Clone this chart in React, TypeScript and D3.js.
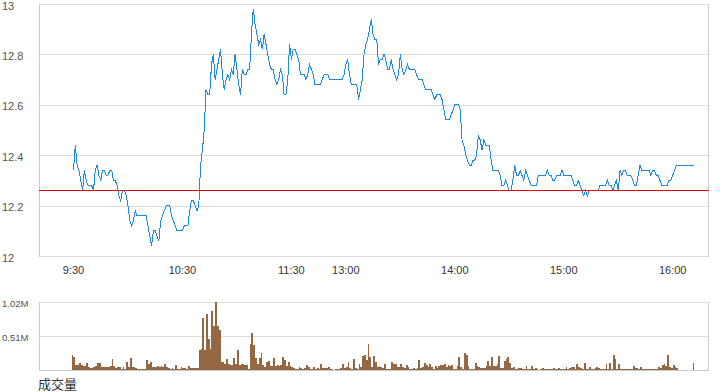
import React from 'react';
import * as d3 from 'd3';

// minute index 0 = 9:30, lunch break removed (HK session), last point = closing auction
const prices = [
  12.34, 12.44, 12.36, 12.34, 12.30, 12.26, 12.34, 12.30, 12.28, 12.28,
  12.28, 12.26, 12.34, 12.36, 12.32, 12.30, 12.34, 12.34, 12.32, 12.32,
  12.34, 12.34, 12.30, 12.30, 12.28, 12.24, 12.22, 12.26, 12.26, 12.24,
  12.20, 12.14, 12.12, 12.14, 12.18, 12.16, 12.16, 12.16, 12.16, 12.16,
  12.16, 12.12, 12.08, 12.04, 12.10, 12.10, 12.08, 12.06, 12.14, 12.16,
  12.18, 12.20, 12.20, 12.20, 12.16, 12.14, 12.12, 12.10, 12.10, 12.10,
  12.10, 12.12, 12.12, 12.12, 12.18, 12.22, 12.22, 12.20, 12.18, 12.20,
  12.36, 12.42, 12.50, 12.66, 12.64, 12.64, 12.76, 12.80, 12.70, 12.74,
  12.78, 12.82, 12.72, 12.66, 12.70, 12.72, 12.70, 12.74, 12.72, 12.80,
  12.74, 12.68, 12.64, 12.74, 12.72, 12.72, 12.74, 12.74, 12.88, 12.98,
  12.92, 12.88, 12.84, 12.86, 12.82, 12.88, 12.84, 12.80, 12.76, 12.74,
  12.74, 12.70, 12.68, 12.70, 12.74, 12.72, 12.64, 12.64, 12.70, 12.84,
  12.78, 12.82, 12.82, 12.80, 12.78, 12.72, 12.72, 12.72, 12.70, 12.72,
  12.76, 12.74, 12.72, 12.68, 12.68, 12.68, 12.68, 12.70, 12.72, 12.72,
  12.72, 12.70, 12.70, 12.70, 12.70, 12.70, 12.70, 12.70, 12.70, 12.72,
  12.76, 12.78, 12.72, 12.68, 12.68, 12.68, 12.68, 12.62, 12.66, 12.70,
  12.80, 12.84, 12.86, 12.90, 12.94, 12.88, 12.86, 12.86, 12.76, 12.78,
  12.78, 12.80, 12.78, 12.74, 12.74, 12.78, 12.74, 12.72, 12.70, 12.72,
  12.80, 12.74, 12.72, 12.74, 12.76, 12.74, 12.74, 12.74, 12.74, 12.72,
  12.70, 12.70, 12.70, 12.68, 12.66, 12.66, 12.66, 12.66, 12.64, 12.62,
  12.64, 12.64, 12.64, 12.62, 12.58, 12.54, 12.54, 12.54, 12.56, 12.58,
  12.60, 12.60, 12.60, 12.58, 12.46, 12.44, 12.40, 12.38, 12.36, 12.36,
  12.38, 12.38, 12.40, 12.48, 12.46, 12.42, 12.46, 12.44, 12.44, 12.44,
  12.38, 12.34, 12.34, 12.34, 12.34, 12.32, 12.28, 12.28, 12.30, 12.28,
  12.26, 12.26, 12.30, 12.36, 12.32, 12.32, 12.34, 12.32, 12.30, 12.34,
  12.32, 12.30, 12.28, 12.28, 12.28, 12.28, 12.32, 12.32, 12.32, 12.32,
  12.32, 12.34, 12.32, 12.32, 12.30, 12.30, 12.32, 12.32, 12.32, 12.34,
  12.32, 12.32, 12.32, 12.32, 12.32, 12.30, 12.28, 12.28, 12.30, 12.28,
  12.26, 12.24, 12.26, 12.24, 12.26, 12.26, 12.26, 12.26, 12.26, 12.26,
  12.28, 12.28, 12.28, 12.28, 12.30, 12.28, 12.28, 12.26, 12.28, 12.30,
  12.26, 12.34, 12.32, 12.34, 12.34, 12.32, 12.32, 12.32, 12.30, 12.28,
  12.28, 12.32, 12.36, 12.34, 12.34, 12.34, 12.34, 12.34, 12.32, 12.34,
  12.34, 12.32, 12.32, 12.30, 12.28, 12.28, 12.28, 12.28, 12.30, 12.30,
  12.32, 12.34, 12.36, 12.36, 12.36, 12.36, 12.36, 12.36, 12.36, 12.36,
  12.36, 12.36, 12.36,
];

// volume per minute, in millions
const volumes = [
  0.225, 0.2, 0.075, 0.075, 0.11, 0.075, 0.06, 0.06, 0.11, 0.05,
  0.025, 0.025, 0.05, 0.06, 0.1, 0.1, 0.05, 0.05, 0.04, 0.04,
  0.04, 0.06, 0.165, 0.06, 0.03, 0.05, 0.05, 0.02, 0.04, 0.02,
  0.125, 0.04, 0.18, 0.04, 0.04, 0.03, 0.02, 0.02, 0.015, 0.015,
  0.015, 0.15, 0.09, 0.125, 0.05, 0.04, 0.05, 0.06, 0.05, 0.06,
  0.04, 0.09, 0.04, 0.025, 0.02, 0.025, 0.01, 0.07, 0.02, 0.02,
  0.05, 0.025, 0.035, 0.02, 0.055, 0.035, 0.035, 0.025, 0.025, 0.025,
  0.295, 0.31, 0.775, 0.3, 0.84, 0.46, 0.315, 0.89, 0.665, 1.015,
  0.665, 0.6, 0.125, 0.125, 0.09, 0.16, 0.09, 0.075, 0.075, 0.185,
  0.09, 0.3, 0.075, 0.085, 0.09, 0.08, 0.075, 0.015, 0.39, 0.55,
  0.375, 0.175, 0.09, 0.175, 0.25, 0.075, 0.05, 0.125, 0.14, 0.06,
  0.06, 0.175, 0.06, 0.075, 0.06, 0.075, 0.19, 0.15, 0.06, 0.125,
  0.06, 0.04, 0.035, 0.02, 0.02, 0.04, 0.025, 0.02, 0.035, 0.075,
  0.05, 0.01, 0.02, 0.04, 0.01, 0.025, 0.01, 0.09, 0.025, 0.025,
  0.025, 0.04, 0.01, 0.01, 0, 0.01, 0.01, 0.015, 0.03, 0.09,
  0.025, 0.05, 0.125, 0.025, 0.02, 0.165, 0.025, 0.02, 0.09, 0.04,
  0.21, 0.225, 0.15, 0.39, 0.2, 0.04, 0.21, 0.125, 0.04, 0.06,
  0.05, 0.025, 0.09, 0.02, 0.02, 0.02, 0.12, 0.09, 0.09, 0.04,
  0.05, 0.09, 0.04, 0.025, 0.07, 0.05, 0.02, 0.01, 0.025, 0.02,
  0.035, 0.15, 0.025, 0.04, 0.11, 0.075, 0.04, 0.09, 0.04, 0.02,
  0.06, 0.025, 0.06, 0.07, 0.08, 0.09, 0.05, 0.075, 0.06, 0.07,
  0.02, 0.015, 0.06, 0.19, 0.04, 0.015, 0.255, 0.225, 0.06, 0.01,
  0.02, 0.015, 0.1, 0.06, 0.05, 0.03, 0.035, 0.035, 0.06, 0.14,
  0.06, 0.19, 0.06, 0.06, 0.09, 0.21, 0.025, 0.025, 0.14, 0.16,
  0.19, 0.11, 0.025, 0.04, 0.01, 0.01, 0.025, 0.025, 0.01, 0.01,
  0.06, 0.02, 0.02, 0.06, 0.01, 0.025, 0.015, 0.005, 0.01, 0.025,
  0.01, 0.01, 0.01, 0.01, 0.01, 0.025, 0.01, 0.01, 0.03, 0.01,
  0.02, 0.01, 0.04, 0.015, 0.025, 0.04, 0.04, 0.015, 0.09, 0.05,
  0.025, 0.02, 0.1, 0.01, 0.01, 0.04, 0.01, 0.02, 0.03, 0.04,
  0.03, 0.02, 0.01, 0.02, 0.09, 0.01, 0.11, 0.01, 0.225, 0.165,
  0.01, 0.09, 0.01, 0.02, 0.01, 0.01, 0.01, 0.01, 0.01, 0.06,
  0.035, 0.03, 0.02, 0.04, 0.02, 0.02, 0.01, 0.01, 0.01, 0.01,
  0.01, 0.01, 0.02, 0.04, 0.03, 0.075, 0.09, 0.06, 0.225, 0.04,
  0.025, 0.075, 0.04, 0.025, 0, 0, 0, 0, 0, 0,
  0, 0, 0.105,
];

const tickLabels = ['9:30', '10:30', '11:30', '13:00', '14:00', '15:00', '16:00'];
const tickMinutes = [0, 60, 120, 150, 210, 270, 330];
const priceTicks = [12, 12.2, 12.4, 12.6, 12.8, 13];
const volumeTicks = [0.51, 1.02];
const prevClose = 12.262;

const W = 720;
const H = 392;
const left = 39;
const right = 709;
const priceTop = 4;
const priceBottom = 256;
const volTop = 302;
const volBottom = 370;

const font = '"Liberation Sans", Arial, sans-serif';

export default function App() {
  const x = d3.scaleLinear().domain([-19, 350]).range([left, right]);
  const y = d3.scaleLinear().domain([12, 13]).range([priceBottom, priceTop]);
  const yv = d3.scaleLinear().domain([0, 1.02]).range([volBottom, volTop]);
  const step = x(1) - x(0);
  const px = (v: number) => Math.round(v) + 0.5;

  const priceLine = d3
    .line<number>()
    .x((_, i) => x(i))
    .y((d) => y(d));

  const grid = '#dcdcdc';

  return (
    <svg
      width={W}
      height={H}
      style={{ position: 'absolute', left: 0, top: 0, background: '#fff' }}
    >
      {/* price panel grid */}
      {priceTicks.map((t) => (
        <line key={t} x1={left} x2={right} y1={px(y(t))} y2={px(y(t))} stroke={grid} />
      ))}
      <line x1={left + 0.5} x2={left + 0.5} y1={priceTop} y2={priceBottom + 1} stroke="#ccc" />
      <line x1={right - 0.5} x2={right - 0.5} y1={priceTop} y2={priceBottom + 1} stroke="#ccc" />
      {priceTicks.map((t) => (
        <text
          key={'l' + t}
          x={2}
          y={Math.max(y(t) + 5.5, 10)}
          fontSize={11}
          fontFamily={font}
          fill="#555"
        >
          {d3.format('~g')(t)}
        </text>
      ))}
      {tickMinutes.map((m, i) => (
        <text
          key={tickLabels[i]}
          x={x(m)}
          y={274}
          textAnchor="middle"
          fontSize={11}
          fontFamily={font}
          fill="#333"
        >
          {tickLabels[i]}
        </text>
      ))}

      <path
        d={priceLine(prices) || ''}
        fill="none"
        stroke="#1f8ae0"
        strokeWidth={1}
        shapeRendering="crispEdges"
      />
      <line
        x1={left}
        x2={right}
        y1={px(y(prevClose))}
        y2={px(y(prevClose))}
        stroke="#ee0000"
        strokeWidth={1}
      />

      {/* volume panel */}
      {volumeTicks.map((t) => (
        <line key={'v' + t} x1={left} x2={right} y1={px(yv(t))} y2={px(yv(t))} stroke={grid} />
      ))}
      <line x1={left} x2={right} y1={volBottom + 0.5} y2={volBottom + 0.5} stroke="#ccc" />
      <line x1={left + 0.5} x2={left + 0.5} y1={volTop} y2={volBottom + 1} stroke="#ccc" />
      <line x1={right - 0.5} x2={right - 0.5} y1={volTop} y2={volBottom + 1} stroke="#ccc" />
      {volumes.map((v, i) => {
        if (v <= 0) return null;
        const x0 = Math.round(x(i) - step);
        const x1 = Math.round(x(i));
        const top = Math.round(yv(v));
        return (
          <rect
            key={'b' + i}
            x={x0}
            y={top}
            width={x1 - x0}
            height={volBottom - top}
            fill="#946845"
            shapeRendering="crispEdges"
          />
        );
      })}
      {volumeTicks.map((t) => (
        <text
          key={'vl' + t}
          x={2}
          y={yv(t) + 4.5}
          fontSize={9.5}
          fontFamily={font}
          fill="#555"
        >
          {t + 'M'}
        </text>
      ))}
      <text x={38} y={389} fontSize={13} fontFamily='"Noto Sans CJK SC", sans-serif' fill="#333">
        成交量
      </text>
    </svg>
  );
}
